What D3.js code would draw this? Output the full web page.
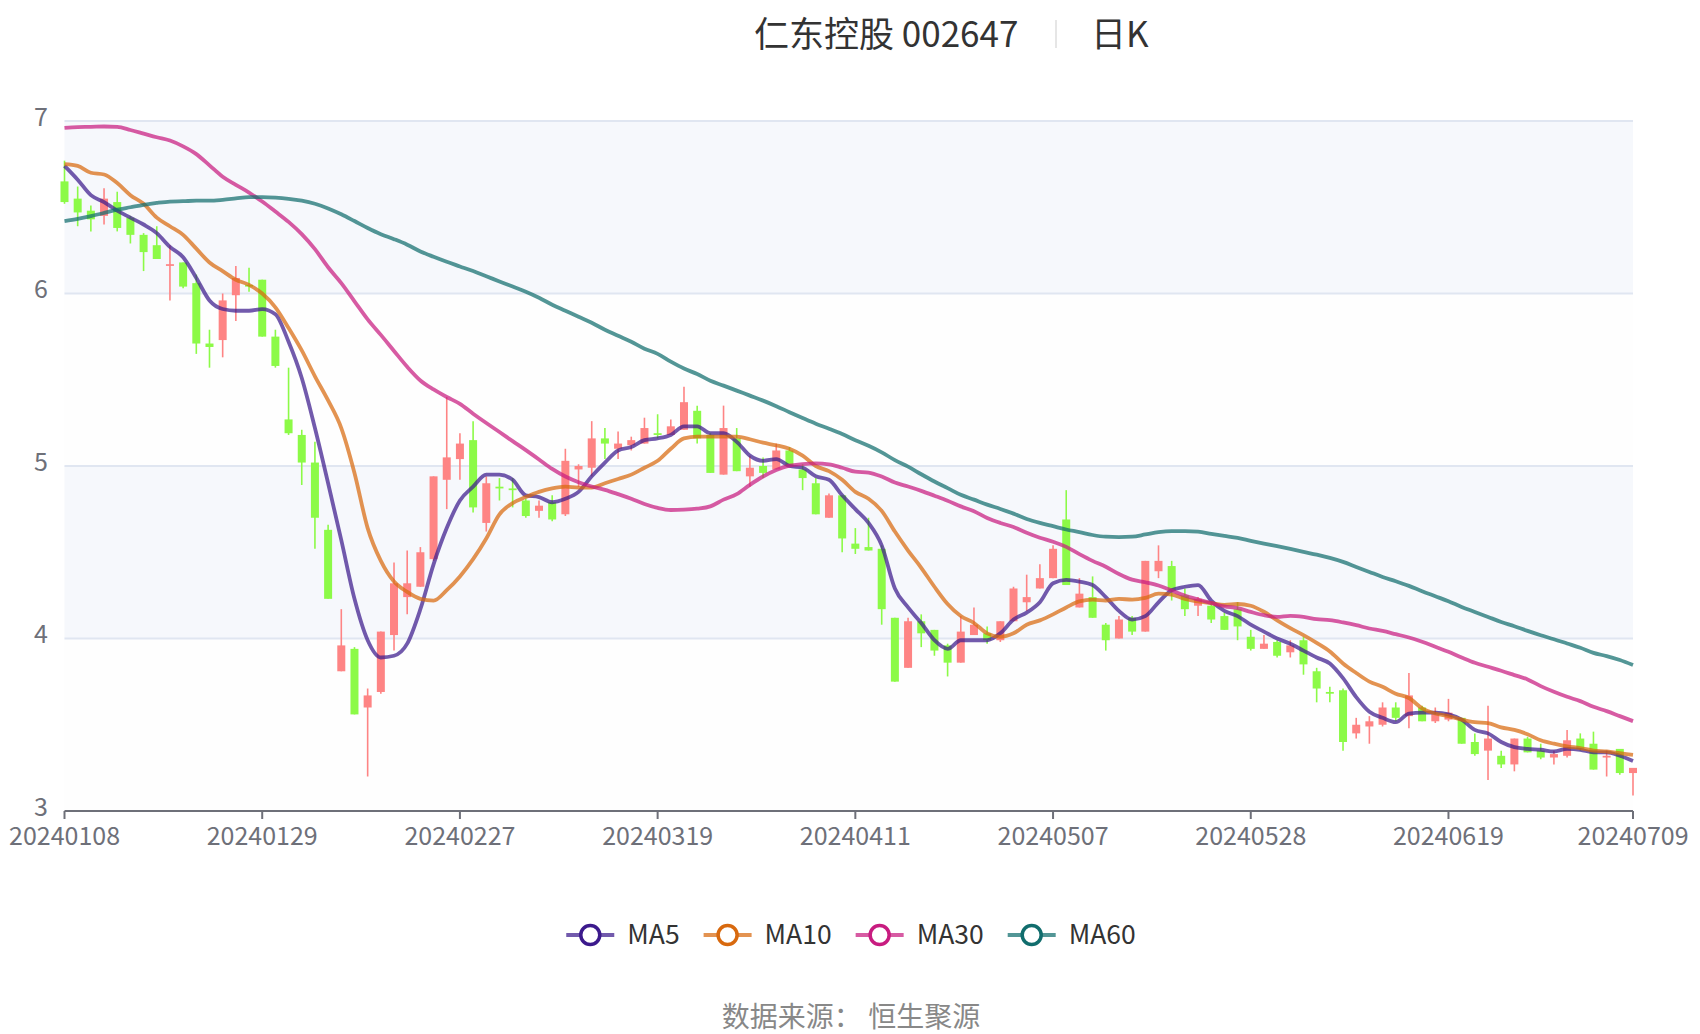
<!DOCTYPE html>
<html>
<head>
<meta charset="utf-8">
<script src="https://cdn.jsdelivr.net/npm/d3@7"></script>
<style>
  body { margin: 0; background: #fff; }
  svg { display: block; font-family: 'Noto Sans CJK SC', 'Noto Sans', sans-serif; }
</style>
</head>
<body>
<svg id="chart" width="1700" height="1034"></svg>
<script>
const dates = [
  '20240108','20240109','20240110','20240111','20240112','20240115','20240116','20240117','20240118','20240119',
  '20240122','20240123','20240124','20240125','20240126','20240129','20240130','20240131','20240201','20240202',
  '20240205','20240206','20240207','20240208','20240219','20240220','20240221','20240222','20240223','20240226',
  '20240227','20240228','20240229','20240301','20240304','20240305','20240306','20240307','20240308','20240311',
  '20240312','20240313','20240314','20240315','20240318','20240319','20240320','20240321','20240322','20240325',
  '20240326','20240327','20240328','20240329','20240401','20240402','20240403','20240408','20240409','20240410',
  '20240411','20240412','20240415','20240416','20240417','20240418','20240419','20240422','20240423','20240424',
  '20240425','20240426','20240429','20240430','20240506','20240507','20240508','20240509','20240510','20240513',
  '20240514','20240515','20240516','20240517','20240520','20240521','20240522','20240523','20240524','20240527',
  '20240528','20240529','20240530','20240531','20240603','20240604','20240605','20240606','20240607','20240611',
  '20240612','20240613','20240614','20240617','20240618','20240619','20240620','20240621','20240624','20240625',
  '20240626','20240627','20240628','20240701','20240702','20240703','20240704','20240705','20240708','20240709'
];

const openP = [
  6.65,6.55,6.48,6.45,6.53,6.44,6.34,6.28,6.16,6.18, 6.06,5.71,5.73,5.99,6.05,6.08,5.75,5.27,5.18,5.02,
  4.63,3.81,3.94,3.60,3.69,4.02,4.24,4.30,4.46,4.92, 5.04,5.15,4.67,4.88,4.87,4.80,4.74,4.79,4.72,4.98,
  4.99,5.16,5.10,5.12,5.13,5.19,5.18,5.21,5.32,5.18, 4.95,5.16,4.94,5.00,4.98,5.09,4.98,4.90,4.70,4.83,
  4.55,4.53,4.52,4.12,3.83,4.10,4.05,3.96,3.86,4.02, 4.03,3.99,4.10,4.21,4.29,4.35,4.69,4.18,4.24,4.08,
  4.00,4.12,4.04,4.39,4.42,4.25,4.19,4.19,4.13,4.17, 4.01,3.94,3.98,3.92,3.99,3.81,3.69,3.70,3.45,3.49,
  3.50,3.60,3.55,3.60,3.52,3.53,3.54,3.40,3.35,3.32, 3.27,3.42,3.35,3.31,3.32,3.42,3.39,3.31,3.36,3.22
];
const closeP = [
  6.53,6.47,6.43,6.55,6.38,6.34,6.24,6.20,6.17,6.04, 5.71,5.69,5.96,6.09,6.04,5.75,5.58,5.19,5.02,4.70,
  4.23,3.96,3.56,3.67,4.04,4.32,4.32,4.50,4.94,5.05, 5.13,4.76,4.90,4.87,4.86,4.71,4.77,4.69,5.03,5.00,
  5.16,5.13,5.13,5.15,5.22,5.18,5.23,5.37,5.16,4.96, 5.22,4.97,4.99,4.96,5.09,5.00,4.93,4.72,4.83,4.58,
  4.52,4.51,4.17,3.75,4.10,4.03,3.93,3.86,4.04,4.08, 3.99,4.10,4.29,4.24,4.35,4.52,4.31,4.26,4.12,3.99,
  4.11,4.04,4.45,4.45,4.28,4.17,4.23,4.11,4.05,4.07, 3.94,3.97,3.90,3.96,3.85,3.71,3.68,3.40,3.50,3.52,
  3.60,3.54,3.67,3.52,3.56,3.57,3.39,3.33,3.42,3.27, 3.42,3.34,3.31,3.33,3.41,3.36,3.24,3.32,3.22,3.25
];
const lowP = [
  6.52,6.39,6.36,6.40,6.36,6.29,6.13,6.20,5.96,6.03, 5.65,5.57,5.63,5.84,6.01,5.75,5.57,5.18,4.89,4.52,
  4.23,3.81,3.56,3.20,3.68,3.93,4.14,4.30,4.45,4.75, 4.92,4.73,4.62,4.80,4.76,4.70,4.70,4.68,4.71,4.88,
  4.94,5.04,5.04,5.09,5.13,5.16,5.18,5.21,5.13,4.96, 4.95,4.97,4.88,4.93,4.98,5.00,4.86,4.72,4.70,4.50,
  4.49,4.51,4.08,3.75,3.83,3.95,3.90,3.78,3.86,4.02, 3.97,3.98,4.10,4.16,4.29,4.35,4.31,4.18,4.12,3.93,
  4.00,4.02,4.04,4.35,4.22,4.13,4.13,4.09,4.05,3.99, 3.93,3.94,3.89,3.89,3.79,3.63,3.63,3.35,3.42,3.39,
  3.49,3.52,3.48,3.52,3.51,3.52,3.39,3.32,3.18,3.25, 3.23,3.34,3.30,3.27,3.31,3.35,3.24,3.20,3.21,3.09
];
const highP = [
  6.77,6.62,6.51,6.61,6.59,6.45,6.35,6.39,6.28,6.18, 6.11,5.79,6.00,6.16,6.15,6.08,5.79,5.57,5.21,5.14,
  4.66,4.17,3.95,3.71,4.04,4.44,4.51,4.53,4.94,5.40, 5.19,5.26,4.94,4.93,4.93,4.81,4.80,4.83,5.10,5.01,
  5.26,5.22,5.20,5.17,5.28,5.30,5.27,5.46,5.35,5.19, 5.35,5.22,5.06,5.05,5.13,5.11,5.01,4.93,4.84,4.83,
  4.64,4.70,4.54,4.12,4.12,4.14,4.05,3.97,4.13,4.18, 4.07,4.10,4.30,4.37,4.43,4.54,4.86,4.35,4.36,4.09,
  4.13,4.13,4.45,4.54,4.45,4.29,4.24,4.21,4.15,4.21, 4.05,4.02,3.99,3.99,4.01,3.83,3.72,3.71,3.54,3.55,
  3.63,3.63,3.80,3.61,3.60,3.65,3.54,3.45,3.61,3.35, 3.42,3.43,3.39,3.35,3.47,3.45,3.46,3.35,3.36,3.25
];

const ma5 = [
  6.74,6.66,6.57,6.53,6.48,6.44,6.40,6.35,6.27,6.21, 6.09,5.96,5.91,5.90,5.90,5.91,5.88,5.72,5.51,5.22,
  4.90,4.57,4.23,3.99,3.89,3.90,3.97,4.17,4.43,4.64, 4.80,4.88,4.95,4.95,4.92,4.83,4.82,4.79,4.81,4.85,
  4.94,5.02,5.09,5.11,5.15,5.16,5.18,5.23,5.23,5.19, 5.19,5.14,5.06,5.03,5.04,5.00,4.99,4.94,4.92,4.83,
  4.75,4.67,4.54,4.29,4.18,4.09,3.99,3.94,3.99,3.99, 3.99,4.03,4.11,4.15,4.21,4.32,4.34,4.33,4.31,4.24,
  4.16,4.11,4.13,4.21,4.28,4.30,4.31,4.22,4.16,4.13, 4.08,4.04,4.00,3.97,3.93,3.89,3.855,3.77,3.66,3.575,
  3.54,3.515,3.565,3.57,3.57,3.56,3.53,3.47,3.45,3.40, 3.37,3.36,3.355,3.345,3.36,3.355,3.34,3.34,3.32,3.29
];
const ma10 = [
  6.75,6.74,6.70,6.69,6.64,6.57,6.52,6.44,6.39,6.34, 6.26,6.18,6.13,6.08,6.05,6.00,5.92,5.80,5.67,5.52,
  5.38,5.22,4.96,4.64,4.45,4.33,4.27,4.23,4.22,4.28, 4.36,4.46,4.58,4.72,4.785,4.82,4.85,4.87,4.88,4.875,
  4.875,4.90,4.925,4.95,4.99,5.03,5.10,5.16,5.17,5.17, 5.17,5.17,5.155,5.135,5.12,5.10,5.06,5.00,4.97,4.92,
  4.85,4.81,4.74,4.62,4.51,4.41,4.30,4.20,4.13,4.09, 4.03,4.01,4.03,4.08,4.105,4.14,4.18,4.215,4.225,4.22,
  4.23,4.225,4.235,4.26,4.255,4.23,4.215,4.205,4.195,4.20, 4.19,4.155,4.105,4.06,4.02,3.975,3.925,3.855,3.80,3.75,
  3.72,3.68,3.655,3.595,3.565,3.55,3.53,3.515,3.51,3.485, 3.47,3.445,3.41,3.39,3.375,3.365,3.35,3.345,3.335,3.325
];
const ma30 = [
  6.96,6.965,6.966,6.968,6.966,6.948,6.927,6.906,6.887,6.853, 6.808,6.743,6.677,6.63,6.585,6.533,6.475,6.415,6.344,6.257,
  6.152,6.06,5.955,5.85,5.76,5.667,5.575,5.496,5.444,5.40, 5.36,5.303,5.249,5.197,5.144,5.092,5.038,4.983,4.939,4.906,
  4.881,4.862,4.837,4.81,4.78,4.757,4.745,4.747,4.753,4.766, 4.805,4.837,4.891,4.939,4.977,5.002,5.011,5.015,5.01,4.99,
  4.967,4.962,4.939,4.904,4.881,4.856,4.828,4.799,4.766,4.738, 4.699,4.67,4.646,4.613,4.584,4.561,4.531,4.489,4.45,4.416,
  4.374,4.341,4.326,4.307,4.278,4.249,4.226,4.205,4.186,4.176, 4.154,4.135,4.125,4.131,4.125,4.112,4.106,4.093,4.077,4.058,
  4.044,4.025,4.006,3.981,3.952,3.923,3.89,3.859,3.836,3.813, 3.788,3.763,3.724,3.691,3.662,3.637,3.604,3.579,3.55,3.521
];
const ma60 = [
  6.42,6.433,6.449,6.467,6.486,6.50,6.514,6.525,6.533,6.535, 6.538,6.538,6.543,6.551,6.559,6.559,6.556,6.549,6.538,6.52,
  6.493,6.459,6.42,6.38,6.344,6.315,6.283,6.244,6.213,6.184, 6.157,6.13,6.10,6.07,6.04,6.01,5.975,5.935,5.90,5.865,
  5.83,5.79,5.755,5.72,5.68,5.65,5.605,5.565,5.533,5.494, 5.466,5.437,5.408,5.379,5.347,5.312,5.278,5.245,5.216,5.185,
  5.149,5.117,5.079,5.034,4.996,4.952,4.91,4.872,4.833,4.805, 4.776,4.751,4.724,4.693,4.67,4.651,4.632,4.617,4.60,4.59,
  4.588,4.59,4.603,4.617,4.623,4.623,4.619,4.607,4.595,4.583, 4.566,4.55,4.535,4.519,4.502,4.486,4.467,4.444,4.415,4.386,
  4.357,4.332,4.305,4.274,4.245,4.216,4.183,4.154,4.125,4.096, 4.071,4.044,4.019,3.996,3.971,3.946,3.917,3.898,3.875,3.846
];

const yTicks = [3, 4, 5, 6, 7];
const xTickLabels = ['20240108','20240129','20240227','20240319','20240411','20240507','20240528','20240619','20240709'];
const seriesNames = ['MA5', 'MA10', 'MA30', 'MA60'];

const svg = d3.select('#chart');
const width = +svg.attr('width');
const plotLeft = 64.5, plotRight = 1633, plotTop = 121, plotBottom = 811;

const upColor = '#fe8484';
const downColor = '#8cfa47';
const lineColors = ['#3c1a8c', '#d8690e', '#c81c80', '#116d6d'];

const x = d3.scalePoint().domain(dates).range([plotLeft, plotRight]);
const y = d3.scaleLinear().domain([3, 7]).range([plotBottom, plotTop]);

// split area + grid
const bands = d3.pairs(yTicks);
svg.append('g')
  .selectAll('rect')
  .data(bands)
  .enter()
  .append('rect')
  .attr('x', plotLeft)
  .attr('width', plotRight - plotLeft)
  .attr('y', (d) => y(d[1]))
  .attr('height', (d) => y(d[0]) - y(d[1]))
  .attr('fill', (d, i) => (i % 2 === 0 ? '#fefefe' : '#f6f8fc'));

svg.append('g')
  .selectAll('line')
  .data(yTicks.slice(1))
  .enter()
  .append('line')
  .attr('x1', plotLeft)
  .attr('x2', plotRight)
  .attr('y1', (d) => y(d))
  .attr('y2', (d) => y(d))
  .attr('stroke', '#e0e6f1')
  .attr('stroke-width', 2);

// y labels
svg.append('g')
  .selectAll('text')
  .data(yTicks)
  .enter()
  .append('text')
  .attr('x', 48)
  .attr('y', (d) => y(d) - 4)
  .attr('dy', '0.35em')
  .attr('text-anchor', 'end')
  .attr('font-size', '25px')
  .attr('fill', '#6e7079')
  .text((d) => d);

// x axis
const xAxis = svg.append('g').attr('transform', 'translate(0,' + plotBottom + ')');
xAxis.append('line')
  .attr('x1', plotLeft)
  .attr('x2', plotRight)
  .attr('stroke', '#6e7079')
  .attr('stroke-width', 2);
const xt = xAxis.selectAll('.tick')
  .data(xTickLabels)
  .enter()
  .append('g')
  .attr('class', 'tick')
  .attr('transform', (d) => 'translate(' + x(d) + ',0)');
xt.append('line')
  .attr('y2', 8)
  .attr('stroke', '#6e7079')
  .attr('stroke-width', 2);
xt.append('text')
  .attr('y', 34)
  .attr('text-anchor', 'middle')
  .attr('font-size', '25px')
  .attr('fill', '#6e7079')
  .text((d) => d);

// candles
const candles = svg.append('g')
  .selectAll('g')
  .data(dates)
  .enter()
  .append('g');
candles.append('line')
  .attr('x1', (d) => x(d))
  .attr('x2', (d) => x(d))
  .attr('y1', (d, i) => y(highP[i]))
  .attr('y2', (d, i) => y(lowP[i]))
  .attr('stroke', (d, i) => (closeP[i] >= openP[i] ? upColor : downColor))
  .attr('stroke-width', 1.6);
candles.append('rect')
  .attr('x', (d) => x(d) - 4)
  .attr('width', 8)
  .attr('y', (d, i) => y(Math.max(openP[i], closeP[i])))
  .attr('height', (d, i) => Math.max(1.5, Math.abs(y(openP[i]) - y(closeP[i]))))
  .attr('fill', (d, i) => (closeP[i] >= openP[i] ? upColor : downColor));

// moving averages
const maSeries = [ma5, ma10, ma30, ma60];
const line = d3.line()
  .x((d, i) => x(dates[i]))
  .y((d) => y(d))
  .curve(d3.curveMonotoneX);
svg.append('g')
  .selectAll('path')
  .data(maSeries)
  .enter()
  .append('path')
  .attr('d', line)
  .attr('fill', 'none')
  .attr('stroke', (d, i) => lineColors[i])
  .attr('stroke-opacity', 0.72)
  .attr('stroke-width', 3.8)
  .attr('stroke-linejoin', 'round');

// title
svg.append('text')
  .attr('x', 754)
  .attr('y', 47)
  .attr('font-size', '35px')
  .attr('fill', '#333')
  .text('仁东控股 002647');
svg.append('line')
  .attr('x1', 1056)
  .attr('x2', 1056)
  .attr('y1', 20)
  .attr('y2', 48)
  .attr('stroke', '#e6e6e6')
  .attr('stroke-width', 2);
svg.append('text')
  .attr('x', 1091)
  .attr('y', 47)
  .attr('font-size', '35px')
  .attr('fill', '#333')
  .text('日K');

// legend
const legend = svg.append('g');
let lx = 0;
seriesNames.forEach((name, i) => {
  const item = legend.append('g').attr('transform', 'translate(' + lx + ',0)');
  item.append('line')
    .attr('x1', 0)
    .attr('x2', 48)
    .attr('stroke', lineColors[i])
    .attr('stroke-opacity', 0.72)
    .attr('stroke-width', 3.8);
  item.append('circle')
    .attr('cx', 24)
    .attr('r', 9.5)
    .attr('fill', '#fff')
    .attr('stroke', lineColors[i])
    .attr('stroke-width', 3.5);
  const t = item.append('text')
    .attr('x', 61)
    .attr('dy', '0.35em')
    .attr('font-size', '26.5px')
    .attr('fill', '#333')
    .text(name);
  lx += 61 + t.node().getComputedTextLength() + 24;
});
legend.attr('transform', 'translate(' + (851 - (lx - 24) / 2) + ',935)');

// source
svg.append('text')
  .attr('x', 851)
  .attr('y', 1027)
  .attr('text-anchor', 'middle')
  .attr('font-size', '28px')
  .attr('fill', '#888')
  .text('数据来源： 恒生聚源');
</script>
</body>
</html>
